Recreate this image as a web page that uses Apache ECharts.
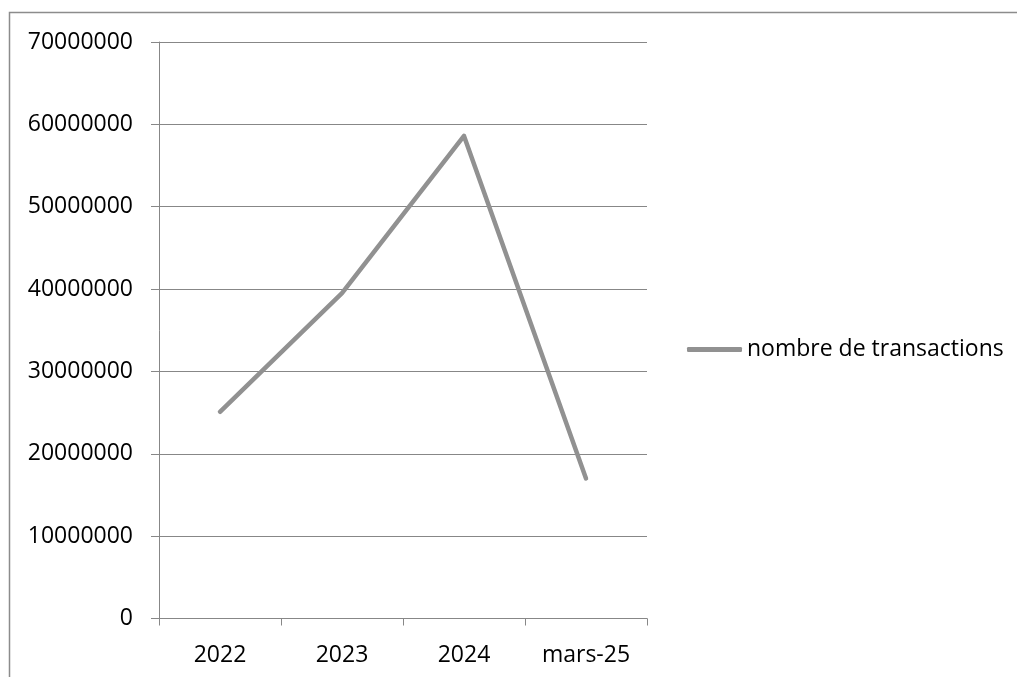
<!DOCTYPE html>
<html>
<head>
<meta charset="utf-8">
<script src="https://cdn.jsdelivr.net/npm/echarts@6/dist/echarts.min.js"></script>
<style>
  html, body { margin: 0; padding: 0; background: #fff; }
  #chart { width: 1017px; height: 677px; }
</style>
</head>
<body>
<div id="chart"></div>
<script>
// Categories and yearly transaction counts
const categories = ['2022', '2023', '2024', 'mars-25'];
const transactions = [25100000, 39500000, 58600000, 17000000];
const seriesName = 'nombre de transactions';
const yMin = 0, yMax = 70000000, yStep = 10000000;

const FONT = '"Open Sans", "Noto Sans", sans-serif';
const FONT_SIZE = 23;
const GRID_COLOR = '#878787';
const LINE_COLOR = '#919191';

const chart = echarts.init(document.getElementById('chart'), null, { renderer: 'canvas' });
chart.setOption({
  animation: false,
  backgroundColor: '#ffffff',
  graphic: [{
    type: 'rect',
    shape: { x: 9.5, y: 12.5, width: 1100, height: 800 },
    style: { fill: 'none', stroke: '#8c8c8c', lineWidth: 1.5 },
    silent: true
  }],
  grid: { left: 159, top: 42, right: 370, bottom: 58.5, containLabel: false },
  legend: {
    data: [seriesName],
    left: 687,
    top: 338,
    padding: 0,
    icon: 'roundRect',
    itemWidth: 55,
    itemHeight: 5,
    itemGap: 0,
    textStyle: { fontFamily: FONT, fontSize: FONT_SIZE, color: '#000' }
  },
  xAxis: {
    type: 'category',
    data: categories,
    boundaryGap: true,
    axisLine: { lineStyle: { color: GRID_COLOR, width: 1 } },
    axisTick: { show: true, length: 7, lineStyle: { color: GRID_COLOR } },
    axisLabel: { fontFamily: FONT, fontSize: FONT_SIZE, color: '#000', margin: 25 },
    splitLine: { show: false }
  },
  yAxis: {
    type: 'value',
    min: yMin,
    max: yMax,
    interval: yStep,
    axisLine: { show: true, lineStyle: { color: GRID_COLOR, width: 1 } },
    axisTick: { show: true, length: 8, lineStyle: { color: GRID_COLOR } },
    axisLabel: {
      fontFamily: FONT, fontSize: FONT_SIZE, color: '#000', margin: 26,
      formatter: v => String(v)
    },
    splitLine: { show: true, lineStyle: { color: GRID_COLOR, width: 1 } }
  },
  series: [{
    name: seriesName,
    type: 'line',
    data: transactions,
    showSymbol: false,
    symbol: 'none',
    itemStyle: { color: LINE_COLOR },
    lineStyle: { color: LINE_COLOR, width: 4.5, cap: 'round', join: 'round' }
  }]
});
</script>
</body>
</html>
